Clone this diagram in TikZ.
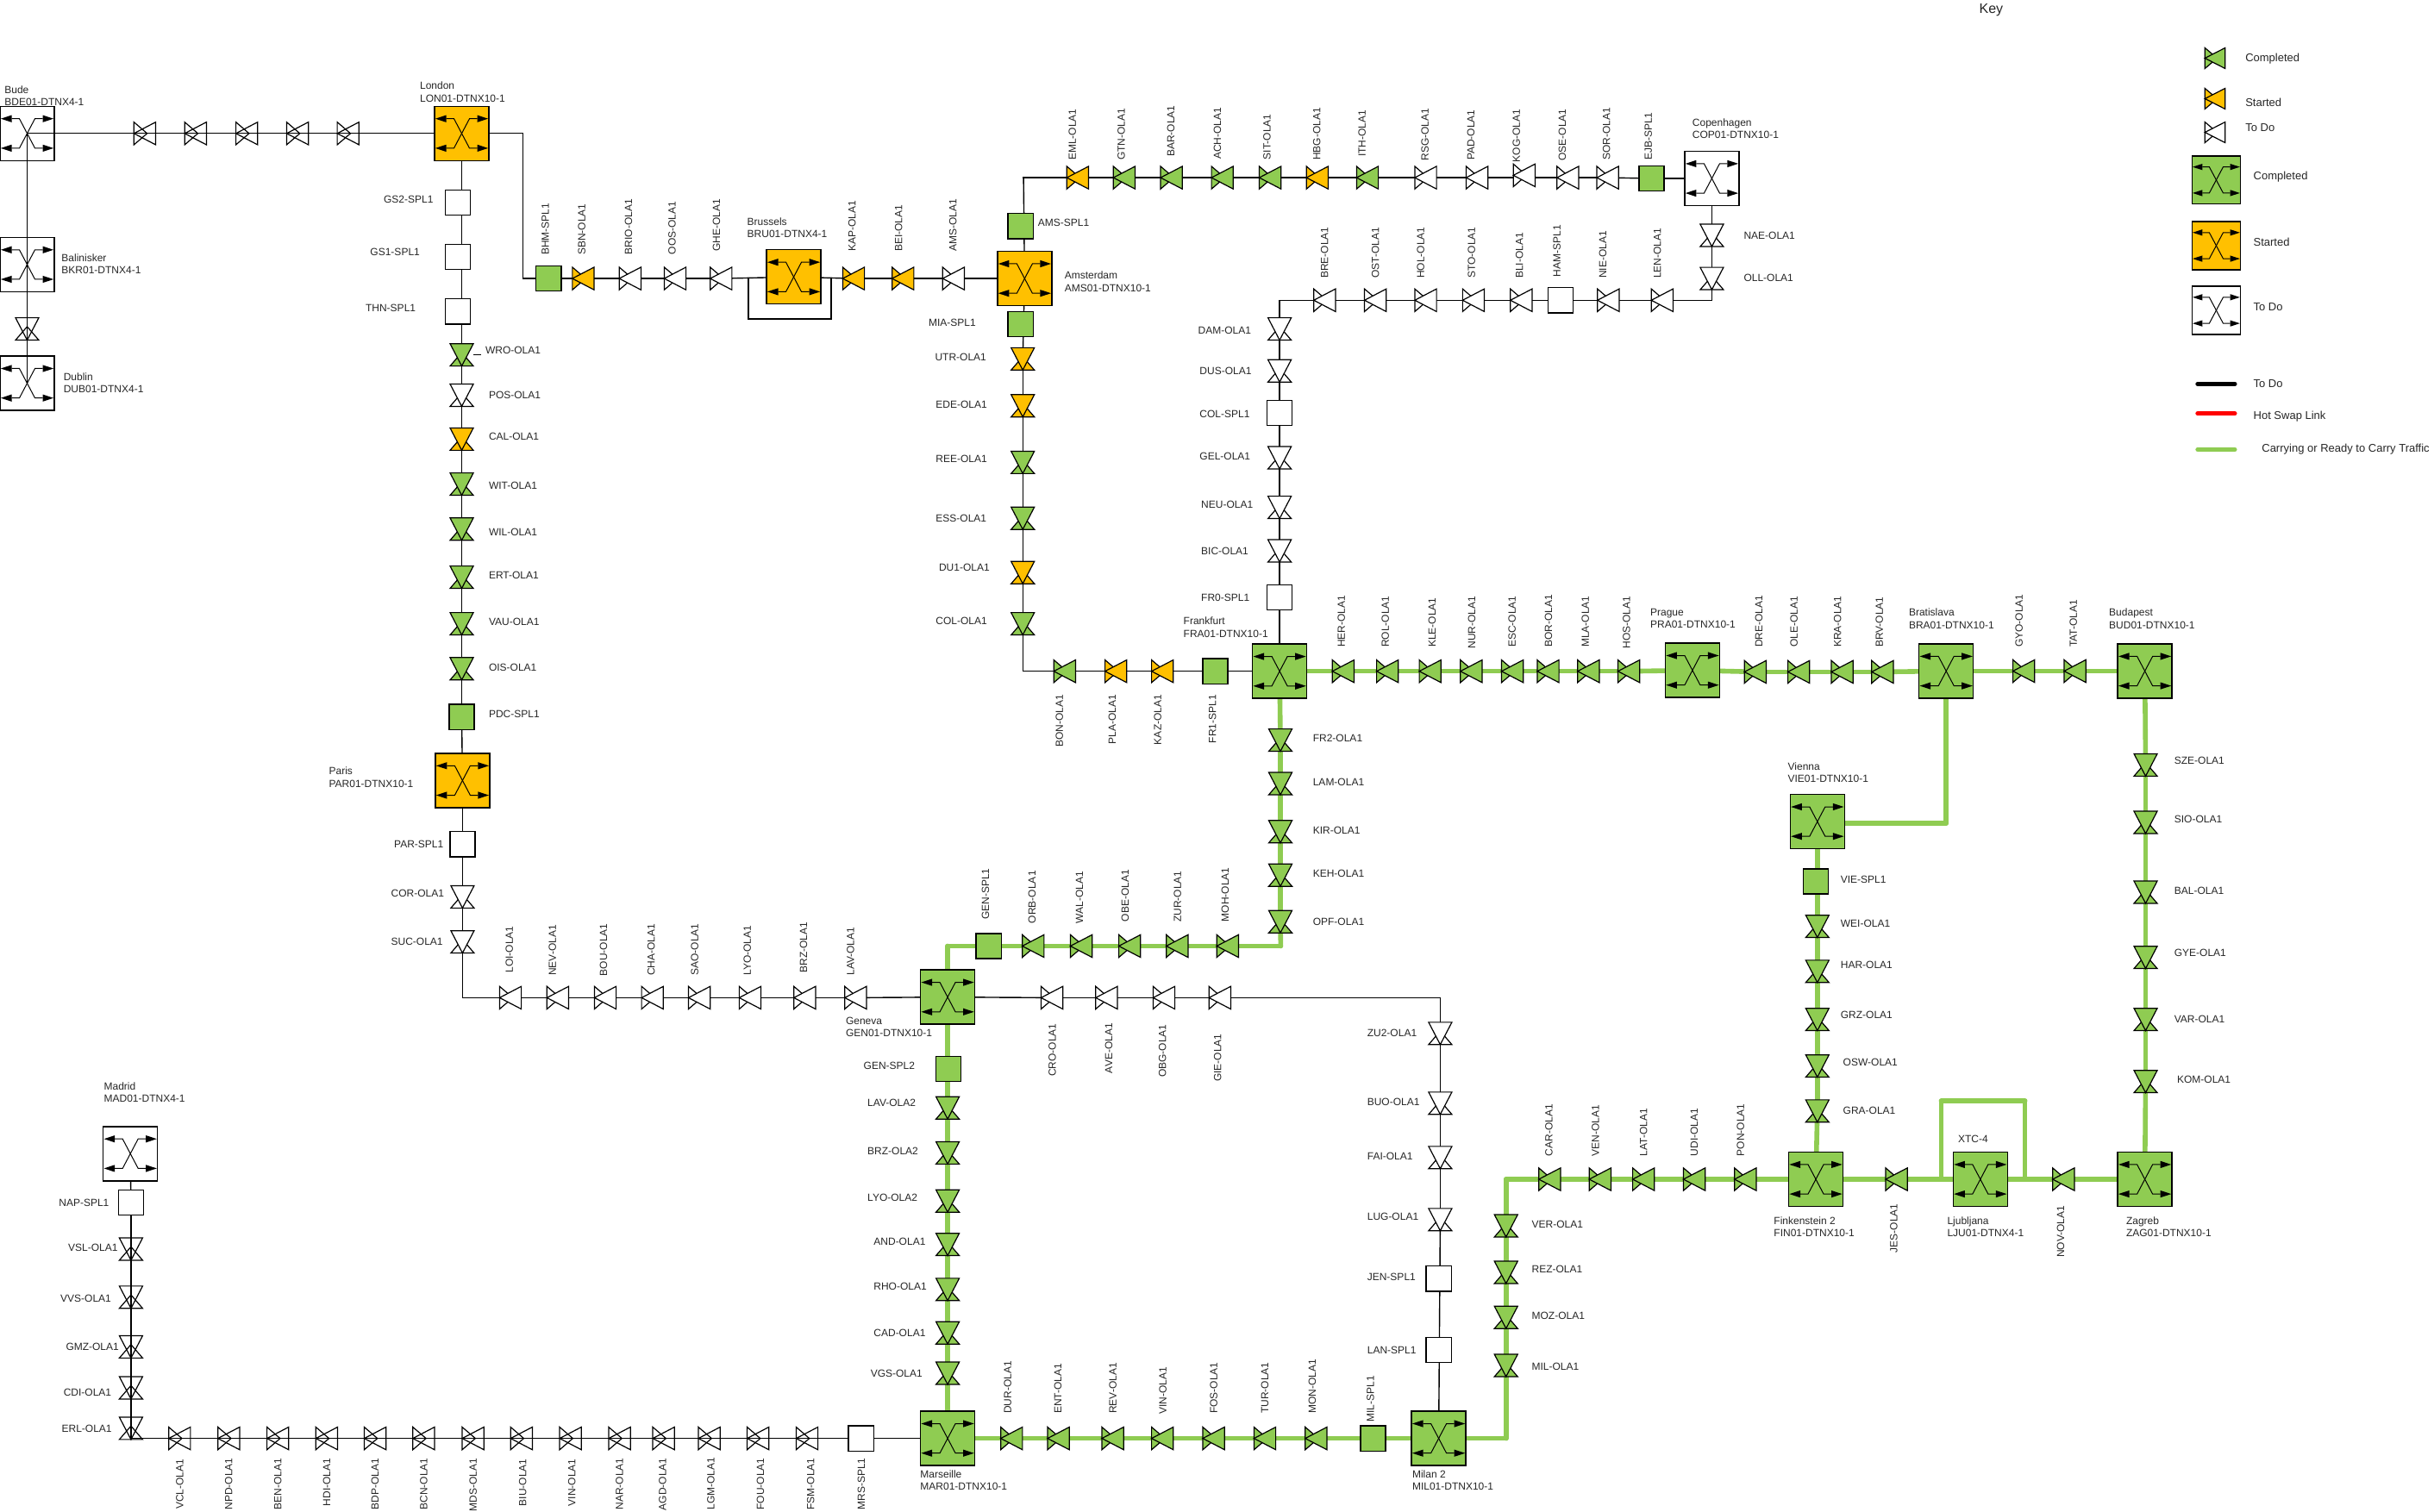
\documentclass[tikz,border=0pt]{standalone}
\usepackage{fontspec}
\setmainfont{Liberation Sans}
\definecolor{grn}{HTML}{8FCC52}
\definecolor{org}{HTML}{FFC000}
\pgfdeclarelayer{bg}
\pgfsetlayers{bg,main}
\tikzset{
 blk/.style={draw=black,line width=0.7pt,line cap=rect},
 grnl/.style={draw=grn,line width=2.8pt,line cap=round},
 sym/.style={draw=black,line width=0.6pt,line join=miter},
 olabox/.style={rectangle,draw=none,fill=none,inner sep=0pt,outer sep=0pt},
 boxn/.style={rectangle,draw=black,line width=0.7pt,inner sep=0pt,outer sep=0pt},
 lab/.style={font=\fontsize{6}{7.1}\selectfont,align=left,inner sep=0pt,outer sep=0pt,anchor=west,text=black!85},
 keylab/.style={font=\fontsize{6.5}{8}\selectfont,inner sep=0pt,outer sep=0pt,anchor=west,text=black!85},
 keyline/.style={line width=2.5pt,line cap=round}
}
\newcount\labn
\newcommand{\lab}[3]{\global\advance\labn by 1\relax\node[lab] (lab\the\labn) at (#1,#2) {#3};}
\newcommand{\rlab}[3]{\global\advance\labn by 1\relax\node[lab,rotate=90] (lab\the\labn) at (#1,#2) {#3};}
\newcommand{\klab}[3]{\global\advance\labn by 1\relax\node[keylab] (lab\the\labn) at (#1,#2) {#3};}
% horizontal OLA: color name x y
\newcommand{\olag}[6]{\node[olabox,minimum width=#5*0.9pt,minimum height=#6*0.9pt] (#2) at (#3,#4) {};
 \begin{scope}[shift={(#2.center)},xscale=#5/14,yscale=#6/15]
 \draw[sym,fill=#1] (-7,-7.5)--(1.5,0)--(-7,7.5)--cycle;
 \draw[sym,fill=#1] (7,-7.5)--(-7,0)--(7,7.5)--cycle;
 \end{scope}}
\newcommand{\olah}[4]{\olag{#1}{#2}{#3}{#4}{14}{14.6}}
\newcommand{\olav}[4]{\node[olabox,minimum width=13.5pt,minimum height=13pt] (#2) at (#3,#4) {};
 \begin{scope}[shift={(#2.center)}]
 \draw[sym,fill=#1] (-7.5,7.2)--(0,-1.5)--(7.5,7.2)--cycle;
 \draw[sym,fill=#1] (-7.5,-7.2)--(0,7.2)--(7.5,-7.2)--cycle;
 \end{scope}}
\newcommand{\spl}[4]{\node[boxn,fill=#1,minimum width=14.6pt,minimum height=14.6pt] (#2) at (#3,#4) {};}
\newcommand{\dtnxg}[6]{\node[boxn,fill=#1,minimum width=#5*0.9pt,minimum height=#6*0.9pt] (#2) at (#3,#4) {};
 \begin{scope}[shift={(#2.center)},xscale=#5/35,yscale=#6/35]
 \draw[line width=0.5pt] (-10,-9.5)--(-5,-9.5)--(5,9.5)--(10,9.5);
 \draw[line width=0.5pt] (-10,9.5)--(-5,9.5)--(5,-9.5)--(10,-9.5);
 \fill (-17,-9.5)--(-10,-11.8)--(-10,-7.2)--cycle;
 \fill (-17,9.5)--(-10,11.8)--(-10,7.2)--cycle;
 \fill (17,-9.5)--(10,-11.8)--(10,-7.2)--cycle;
 \fill (17,9.5)--(10,11.8)--(10,7.2)--cycle;
 \end{scope}}
\newcommand{\dtnx}[4]{\dtnxg{#1}{#2}{#3}{#4}{35}{35}}
\newcommand{\chain}[3][blk]{\begin{pgfonlayer}{bg}\foreach \cha [remember=\cha as \chb (initially #2)] in {#3}{\draw[#1] (\chb.center)--(\cha.center);}\end{pgfonlayer}}
\begin{document}
\begin{tikzpicture}[x=0.9pt,y=-0.9pt]
\useasboundingbox (0,0) rectangle (1568.33,974.44);
% ---------- Bude / London
\dtnx{white}{bde}{17.5}{86}
\dtnx{white}{bkr}{17.5}{170.5}
\dtnx{white}{dub}{17.5}{247}
\olav{none}{lnk}{17.5}{212}
\dtnx{org}{lon}{297.5}{86}
\olah{none}{bda}{93.3}{86}
\olah{none}{bdb}{126}{86}
\olah{none}{bdc}{159}{86}
\olah{none}{bdd}{191.7}{86}
\olah{none}{bde2}{224.3}{86}
\draw[blk] (bde.center)--(bda.center);
\draw[blk] (bde.center)--(bkr.center)--(lnk.center)--(dub.center);
\chain{bda}{bdb,bdc,bdd,bde2,lon}
\lab{3}{61.7}{Bude\\BDE01-DTNX4-1}
\lab{270.6}{59.3}{London\\LON01-DTNX10-1}
\lab{39.7}{170}{Balinisker\\BKR01-DTNX4-1}
\lab{41}{246.7}{Dublin\\DUB01-DTNX4-1}
% ---------- London to Amsterdam
\coordinate (ca) at (336.8,86);
\coordinate (cb) at (336.8,179.5);
\spl{grn}{bhm}{353.5}{179.5}
\olah{org}{sbn}{375.8}{179.5}
\olah{white}{bri}{406}{179.5}
\olah{white}{oos}{435}{179.5}
\olah{white}{ghe}{464.6}{179.5}
\dtnx{org}{bru}{511.4}{178.5}
\olah{org}{kap}{550}{179.5}
\olah{org}{bei}{581.8}{179.5}
\olah{white}{amo}{614.4}{179.5}
\dtnx{org}{ams}{660.2}{179.5}
\chain{lon}{ca,cb,bhm,sbn,bri,oos,ghe,bru,kap,bei,amo,ams}
\coordinate (lpa) at (482.3,179.5);
\coordinate (lpb) at (482.3,205.6);
\coordinate (lpc) at (535.6,205.6);
\coordinate (lpd) at (535.6,179.5);
\chain{lpa}{lpb,lpc,lpd}
\rlab{351.4}{164.4}{BHM-SPL1}
\rlab{374.8}{164.4}{SBN-OLA1}
\rlab{405}{164}{BRIO-OLA1}
\rlab{433}{164}{OOS-OLA1}
\rlab{461.7}{162}{GHE-OLA1}
\rlab{549}{162}{KAP-OLA1}
\rlab{579}{162.2}{BEI-OLA1}
\rlab{614}{162.2}{AMS-OLA1}
\lab{481.5}{147}{Brussels\\BRU01-DTNX4-1}
\lab{686}{181.5}{Amsterdam\\AMS01-DTNX10-1}
% ---------- GS column
\spl{white}{gsb}{295}{130.6}
\spl{white}{gsa}{295}{165.5}
\spl{white}{thn}{295}{200.7}
\olav{grn}{wro}{297.5}{228.7}
\olav{white}{pos}{297.5}{254.7}
\olav{org}{cal}{297.5}{283}
\olav{grn}{wit}{297.5}{312}
\olav{grn}{wil}{297.5}{341}
\olav{grn}{ert}{297.5}{372}
\olav{grn}{vau}{297.5}{402}
\olav{grn}{ois}{297.5}{431}
\spl{grn}{pdc}{297.5}{462}
\dtnx{org}{par}{298}{503}
\spl{white}{parsp}{298}{544}
\olav{white}{cor}{298}{578}
\olav{white}{suc}{298}{607}
\coordinate (cc) at (298,643);
\chain{lon}{wro,pos,cal,wit,wil,ert,vau,ois,pdc,par,parsp,cor,suc,cc}
\coordinate (wrot) at (310,228.7);
\draw[line width=0.6pt] (wro.east)--(wrot);
\lab{247.3}{128.7}{GS2-SPL1}
\lab{238.6}{162.6}{GS1-SPL1}
\lab{235.6}{198.7}{THN-SPL1}
\lab{312.8}{226}{WRO-OLA1}
\lab{315}{254.5}{POS-OLA1}
\lab{315}{281.5}{CAL-OLA1}
\lab{315}{313}{WIT-OLA1}
\lab{315}{343}{WIL-OLA1}
\lab{315}{371}{ERT-OLA1}
\lab{315}{401}{VAU-OLA1}
\lab{315}{430}{OIS-OLA1}
\lab{315}{460}{PDC-SPL1}
\lab{212}{501}{Paris\\PAR01-DTNX10-1}
\lab{254}{544}{PAR-SPL1}
\lab{252}{576}{COR-OLA1}
\lab{252}{607}{SUC-OLA1}
% ---------- Row left of Geneva
\dtnx{grn}{gen}{610.6}{642.6}
\olah{white}{loi}{328.9}{643}
\olah{white}{nev}{359.4}{643}
\olah{white}{bou}{390}{643}
\olah{white}{cha}{420.4}{643}
\olah{white}{sao}{450.6}{643}
\olah{white}{lyo}{483.3}{643}
\olah{white}{brz}{518.5}{643}
\olah{white}{lav}{551.3}{643}
\chain{cc}{loi,nev,bou,cha,sao,lyo,brz,lav,gen}
\rlab{328.2}{626.9}{LOI-OLA1}
\rlab{356}{628.7}{NEV-OLA1}
\rlab{388.9}{629}{BOU-OLA1}
\rlab{419.6}{628.7}{CHA-OLA1}
\rlab{447.6}{628.7}{SAO-OLA1}
\rlab{481.5}{628.7}{LYO-OLA1}
\rlab{517.8}{627}{BRZ-OLA1}
\rlab{548}{628.7}{LAV-OLA1}
\lab{545}{662}{Geneva\\GEN01-DTNX10-1}
% ---------- Amsterdam top row
\spl{grn}{amsp}{657.6}{145.7}
\coordinate (cd) at (659.5,114.5);
\olah{org}{eml}{694.4}{114.5}
\olah{grn}{gtn}{724.4}{114.5}
\olah{grn}{bar}{754.8}{114.5}
\olah{grn}{ach}{787.6}{114.5}
\olah{grn}{sit}{818.4}{114.5}
\olah{org}{hbg}{848.8}{114.5}
\olah{grn}{ith}{881.1}{114.5}
\olah{white}{rsg}{918.6}{114.5}
\olah{white}{pad}{951.7}{114.5}
\olah{white}{kog}{982.1}{113}
\olah{white}{ose}{1010.2}{114.5}
\olah{white}{sor}{1035.9}{114.5}
\spl{grn}{ejb}{1064.2}{115}
\dtnx{white}{cop}{1103}{115}
\chain{ams}{cd}
\chain{cd}{eml,gtn,bar,ach,sit,hbg,ith,rsg,pad}
\chain{pad}{ose,sor,ejb,cop}
\rlab{690.9}{103.3}{EML-OLA1}
\rlab{722.5}{103.3}{GTN-OLA1}
\rlab{754.4}{101}{BAR-OLA1}
\rlab{784.4}{102.6}{ACH-OLA1}
\rlab{816.4}{102.9}{SIT-OLA1}
\rlab{848.4}{103.3}{HBG-OLA1}
\rlab{877.6}{101}{ITH-OLA1}
\rlab{918.2}{103.7}{RSG-OLA1}
\rlab{947.8}{103.3}{PAD-OLA1}
\rlab{977}{104.6}{KOG-OLA1}
\rlab{1006.7}{103.7}{OSE-OLA1}
\rlab{1035.1}{103.3}{SOR-OLA1}
\rlab{1062}{103.3}{EJB-SPL1}
\lab{1090.5}{82.7}{Copenhagen\\COP01-DTNX10-1}
\lab{668.8}{143.5}{AMS-SPL1}
% ---------- Copenhagen return
\olav{white}{nae}{1103}{151.7}
\olav{white}{oll}{1103}{179.5}
\coordinate (ce) at (1103,193.5);
\olah{white}{len}{1071}{193.5}
\olah{white}{nie}{1036.3}{193.5}
\spl{white}{ham}{1005.5}{193.5}
\olah{white}{bli}{980.2}{193.5}
\olah{white}{sto}{949.4}{193.5}
\olah{white}{hol}{918.6}{193.5}
\olah{white}{ost}{886.2}{193.5}
\olah{white}{bre}{853.5}{193.5}
\coordinate (cf) at (824.5,193.5);
\olav{white}{dam}{824.5}{212}
\olav{white}{dus}{824.5}{239}
\spl{white}{colsp}{824.5}{266}
\olav{white}{gel}{824.5}{295}
\olav{white}{neu}{824.5}{327}
\olav{white}{bic}{824.5}{355}
\spl{white}{fro}{824.5}{385}
\dtnx{grn}{fra}{824.5}{432.6}
\chain{cop}{nae,oll,ce,len,nie,ham,bli,sto,hol,ost,bre,cf,dam,dus,colsp,gel,neu,bic,fro,fra}
\lab{1123.6}{152}{NAE-OLA1}
\lab{1123.6}{179}{OLL-OLA1}
\rlab{853.5}{179.3}{BRE-OLA1}
\rlab{886.2}{179.3}{OST-OLA1}
\rlab{915.4}{179.3}{HOL-OLA1}
\rlab{948.2}{179.3}{STO-OLA1}
\rlab{979}{179.3}{BLI-OLA1}
\rlab{1003.2}{178.5}{HAM-SPL1}
\rlab{1032.8}{179.3}{NIE-OLA1}
\rlab{1067.9}{179.3}{LEN-OLA1}
\lab{772}{212.8}{DAM-OLA1}
\lab{773}{239}{DUS-OLA1}
\lab{773}{267}{COL-SPL1}
\lab{773}{294}{GEL-OLA1}
\lab{774}{325}{NEU-OLA1}
\lab{774}{355}{BIC-OLA1}
\lab{774}{385}{FR0-SPL1}
\lab{762.6}{404.3}{Frankfurt\\FRA01-DTNX10-1}
% ---------- Amsterdam down
\spl{grn}{mia}{657.6}{209}
\olav{org}{utr}{659}{231.3}
\olav{org}{ede}{659}{261.5}
\olav{grn}{ree}{659}{298}
\olav{grn}{ess}{659}{334}
\olav{org}{duo}{659}{369}
\olav{grn}{colo}{659}{402}
\coordinate (cg) at (659,432.6);
\olah{grn}{bon}{686}{432.6}
\olah{org}{pla}{719}{432.6}
\olah{org}{kaz}{749}{432.6}
\spl{grn}{fro1}{783}{432.6}
\chain{ams}{utr,ede,ree,ess,duo,colo,cg,bon,pla,kaz,fro1,fra}
\lab{598.4}{207.8}{MIA-SPL1}
\lab{602.5}{230}{UTR-OLA1}
\lab{603}{261}{EDE-OLA1}
\lab{603}{296}{REE-OLA1}
\lab{603}{334}{ESS-OLA1}
\lab{605}{366}{DU1-OLA1}
\lab{603}{400}{COL-OLA1}
\rlab{682.6}{481.5}{BON-OLA1}
\rlab{716.7}{479.6}{PLA-OLA1}
\rlab{746}{480}{KAZ-OLA1}
\rlab{781.3}{479}{FR1-SPL1}
% ---------- Frankfurt east
\olah{grn}{her}{865.5}{432.6}
\olah{grn}{rol}{894}{432.6}
\olah{grn}{kle}{921.5}{432.6}
\olah{grn}{nur}{948}{432.6}
\olah{grn}{esc}{974.5}{432.6}
\olah{grn}{bor}{997.5}{432.6}
\olah{grn}{mla}{1023.5}{432.6}
\olah{grn}{hos}{1049.5}{432.6}
\dtnx{grn}{pra}{1090.5}{432}
\olah{grn}{dre}{1131}{433}
\olah{grn}{ole}{1159}{433}
\olah{grn}{kra}{1187}{433}
\olah{grn}{brv}{1213}{433}
\dtnx{grn}{bra}{1254}{432.5}
\olah{grn}{gyo}{1304}{432.5}
\olah{grn}{tat}{1337}{432.5}
\dtnx{grn}{bud}{1382}{432.5}
\chain[grnl]{fra}{her,rol,kle,nur,esc,bor,mla,hos,pra,dre,ole,kra,brv,bra,gyo,tat,bud}
\rlab{864.3}{417.2}{HER-OLA1}
\rlab{892.6}{417.2}{ROL-OLA1}
\rlab{922.8}{417.2}{KLE-OLA1}
\rlab{948.3}{418}{NUR-OLA1}
\rlab{974.3}{417.2}{ESC-OLA1}
\rlab{997.8}{417.2}{BOR-OLA1}
\rlab{1021.5}{417.2}{MLA-OLA1}
\rlab{1048}{418}{HOS-OLA1}
\rlab{1133.3}{417.2}{DRE-OLA1}
\rlab{1156}{417.2}{OLE-OLA1}
\rlab{1184}{417.2}{KRA-OLA1}
\rlab{1211}{417.2}{BRV-OLA1}
\rlab{1301}{417.2}{GYO-OLA1}
\rlab{1336}{417.2}{TAT-OLA1}
\lab{1063.4}{398.7}{Prague\\PRA01-DTNX10-1}
\lab{1230}{398.7}{Bratislava\\BRA01-DTNX10-1}
\lab{1359}{398.7}{Budapest\\BUD01-DTNX10-1}
% ---------- Budapest south
\olav{grn}{sze}{1382.5}{493}
\olav{grn}{sio}{1382.5}{530}
\olav{grn}{bal}{1382.5}{575}
\olav{grn}{gye}{1382.5}{617}
\olav{grn}{var}{1382.5}{657}
\olav{grn}{kom}{1382.5}{697}
\dtnx{grn}{zag}{1382}{760}
\chain[grnl]{bud}{sze,sio,bal,gye,var,kom,zag}
\lab{1401}{490}{SZE-OLA1}
\lab{1401}{528}{SIO-OLA1}
\lab{1401}{574}{BAL-OLA1}
\lab{1401}{614}{GYE-OLA1}
\lab{1401}{657}{VAR-OLA1}
\lab{1402.8}{696}{KOM-OLA1}
\lab{1370}{790.7}{Zagreb\\ZAG01-DTNX10-1}
% ---------- Vienna
\dtnx{grn}{vie}{1171}{529.5}
\coordinate (ch) at (1254,530.5);
\spl{grn}{viesp}{1170}{568}
\olav{grn}{wei}{1171}{597}
\olav{grn}{har}{1171}{626}
\olav{grn}{grz}{1171}{657}
\olav{grn}{osw}{1171}{687}
\olav{grn}{gra}{1171}{716}
\dtnx{grn}{fin}{1170}{760}
\chain[grnl]{bra}{ch}
\begin{pgfonlayer}{bg}\draw[grnl] (ch)--(vie.center|-ch);\end{pgfonlayer}
\chain[grnl]{vie}{wei,har,grz,osw,gra,fin}
\lab{1152}{498}{Vienna\\VIE01-DTNX10-1}
\lab{1186}{567}{VIE-SPL1}
\lab{1186}{595}{WEI-OLA1}
\lab{1186}{622}{HAR-OLA1}
\lab{1186}{654}{GRZ-OLA1}
\lab{1187.6}{684.4}{OSW-OLA1}
\lab{1187.6}{716}{GRA-OLA1}
% ---------- Finkenstein row
\olah{grn}{jes}{1222}{760}
\dtnx{grn}{xtc}{1276}{760}
\olah{grn}{nov}{1329.6}{760}
\chain[grnl]{fin}{jes,xtc,nov,zag}
\coordinate (la) at (1250.8,760);
\coordinate (lb) at (1250.8,709.6);
\coordinate (lc) at (1304.8,709.6);
\coordinate (ld) at (1304.8,760);
\chain[grnl]{la}{lb,lc,ld}
\lab{1143}{790.7}{Finkenstein 2\\FIN01-DTNX10-1}
\lab{1254.7}{790.7}{Ljubljana\\LJU01-DTNX4-1}
\lab{1261.7}{734}{XTC-4}
\rlab{1220.3}{807.4}{JES-OLA1}
\rlab{1327.8}{810.4}{NOV-OLA1}
\olah{grn}{car}{998.5}{760}
\olah{grn}{ven}{1031}{760}
\olah{grn}{lat}{1059}{760}
\olah{grn}{udi}{1091.7}{760}
\olah{grn}{pon}{1124.6}{760}
\coordinate (ci) at (970.4,760);
\olav{grn}{ver}{970.4}{790}
\olav{grn}{rez}{970.4}{820}
\olav{grn}{moz}{970.4}{849}
\olav{grn}{milo}{970.4}{880}
\coordinate (cj) at (970.4,927);
\dtnx{grn}{mil}{927}{927}
\chain[grnl]{fin}{pon,udi,lat,ven,car,ci,ver,rez,moz,milo,cj,mil}
\rlab{998}{745}{CAR-OLA1}
\rlab{1028}{745}{VEN-OLA1}
\rlab{1059}{745}{LAT-OLA1}
\rlab{1091.7}{745}{UDI-OLA1}
\rlab{1121.5}{745}{PON-OLA1}
\lab{987}{789}{VER-OLA1}
\lab{987}{818}{REZ-OLA1}
\lab{987}{848}{MOZ-OLA1}
\lab{987}{881}{MIL-OLA1}
\lab{910}{954}{Milan 2\\MIL01-DTNX10-1}
% ---------- Frankfurt south to Geneva
\olav{grn}{frt}{825}{477}
\olav{grn}{lam}{825}{505}
\olav{grn}{kir}{825}{536}
\olav{grn}{keh}{825}{564}
\olav{grn}{opf}{825}{594}
\coordinate (ck) at (825.2,609.7);
\olah{grn}{moh}{791}{609.7}
\olah{grn}{zur}{758.5}{609.7}
\olah{grn}{obe}{727.9}{609.7}
\olah{grn}{wal}{696.7}{609.7}
\olah{grn}{orb}{665.7}{609.7}
\spl{grn}{gsa1}{637}{609.7}
\coordinate (cl) at (610.6,609.7);
\chain[grnl]{fra}{frt,lam,kir,keh,opf,ck,moh,zur,obe,wal,orb,gsa1,cl,gen}
\lab{846}{476}{FR2-OLA1}
\lab{846}{504}{LAM-OLA1}
\lab{846}{535}{KIR-OLA1}
\lab{846}{563}{KEH-OLA1}
\lab{846}{594}{OPF-OLA1}
\rlab{635}{592.6}{GEN-SPL1}
\rlab{665}{595}{ORB-OLA1}
\rlab{695.6}{595}{WAL-OLA1}
\rlab{725}{594}{OBE-OLA1}
\rlab{758.7}{594.4}{ZUR-OLA1}
\rlab{789.4}{594}{MOH-OLA1}
% ---------- Geneva east to Milan
\olah{white}{cro}{677.8}{643}
\olah{white}{ave}{713}{643}
\olah{white}{obg}{750}{643}
\olah{white}{gie}{786}{643}
\coordinate (cm) at (928,643);
\olav{white}{zuo}{928}{666}
\olav{white}{buo}{928}{711}
\olav{white}{fai}{928}{746}
\olav{white}{lug}{928}{786}
\spl{white}{jen}{927}{824}
\spl{white}{lan}{927}{870}
\chain{gen}{cro,ave,obg,gie,cm,zuo,buo,fai,lug}
\chain{lug}{mil}
\rlab{678}{693.7}{CRO-OLA1}
\rlab{714.4}{691.7}{AVE-OLA1}
\rlab{749}{694.4}{OBG-OLA1}
\rlab{784.5}{697.2}{GIE-OLA1}
\lab{881}{666}{ZU2-OLA1}
\lab{881}{710}{BUO-OLA1}
\lab{881}{745}{FAI-OLA1}
\lab{881}{784}{LUG-OLA1}
\lab{881}{823}{JEN-SPL1}
\lab{881}{870}{LAN-SPL1}
% ---------- Geneva south to Marseille
\spl{grn}{gsb2}{611}{688.8}
\olav{grn}{lava}{610.6}{714}
\olav{grn}{brza}{610.6}{743}
\olav{grn}{lyoa}{610.6}{774}
\olav{grn}{and}{610.6}{802}
\olav{grn}{rho}{610.6}{831}
\olav{grn}{cad}{610.6}{859}
\olav{grn}{vgs}{610.6}{885}
\dtnx{grn}{mar}{610.6}{927}
\chain[grnl]{gen}{lava,brza,lyoa,and,rho,cad,vgs,mar}
\lab{556.5}{687}{GEN-SPL2}
\lab{559}{711}{LAV-OLA2}
\lab{559}{742}{BRZ-OLA2}
\lab{559}{772}{LYO-OLA2}
\lab{563}{800}{AND-OLA1}
\lab{563}{829}{RHO-OLA1}
\lab{563}{859}{CAD-OLA1}
\lab{561}{885}{VGS-OLA1}
\lab{593}{954}{Marseille\\MAR01-DTNX10-1}
\olah{grn}{dur}{651.8}{927}
\olah{grn}{ent}{682}{927}
\olah{grn}{rev}{717}{927}
\olah{grn}{vin}{749}{927}
\olah{grn}{fos}{782}{927}
\olah{grn}{tur}{815}{927}
\olah{grn}{mon}{848}{927}
\spl{grn}{mlsp}{884.7}{927}
\chain[grnl]{mar}{dur,ent,rev,vin,fos,tur,mon,mlsp,mil}
\rlab{649.3}{911}{DUR-OLA1}
\rlab{681.7}{911}{ENT-OLA1}
\rlab{717}{911}{REV-OLA1}
\rlab{749.3}{911.5}{VIN-OLA1}
\rlab{782}{911}{FOS-OLA1}
\rlab{815}{911}{TUR-OLA1}
\rlab{845.5}{911}{MON-OLA1}
\rlab{883}{916.3}{MIL-SPL1}
% ---------- Madrid
\dtnx{white}{mad}{84}{743.5}
\spl{white}{nap}{84.4}{775}
\olav{none}{vsl}{84.4}{805}
\olav{none}{vvs}{84.4}{836}
\olav{none}{gmz}{84.4}{868}
\olav{none}{cdi}{84.4}{894.4}
\olav{none}{erl}{84.4}{920.5}
\coordinate (cn) at (84.4,927);
\olah{none}{vcl}{115.7}{927}
\olah{none}{npd}{147.4}{927}
\olah{none}{ben}{179}{927}
\olah{none}{hdi}{210.5}{927}
\olah{none}{bdp}{241.7}{927}
\olah{none}{bcn}{273}{927}
\olah{none}{mds}{304.8}{927}
\olah{none}{biu}{336}{927}
\olah{none}{vno}{367.6}{927}
\olah{none}{nar}{399.2}{927}
\olah{none}{agd}{427.6}{927}
\olah{none}{lgm}{457}{927}
\olah{none}{fou}{488.4}{927}
\olah{none}{fsm}{520}{927}
\spl{white}{mrs}{554.8}{927}
\chain{mad}{nap,vsl,vvs,gmz,cdi,erl,cn,vcl,npd,ben,hdi,bdp,bcn,mds,biu,vno,nar,agd,lgm,fou,fsm,mrs,mar}
\lab{67}{704}{Madrid\\MAD01-DTNX4-1}
\lab{38}{775}{NAP-SPL1}
\lab{44}{804}{VSL-OLA1}
\lab{39}{836.7}{VVS-OLA1}
\lab{42.5}{868}{GMZ-OLA1}
\lab{41}{897.6}{CDI-OLA1}
\lab{39.8}{920.7}{ERL-OLA1}
\rlab{115.8}{972.6}{VCL-OLA1}
\rlab{147.4}{973}{NPD-OLA1}
\rlab{179}{973}{BEN-OLA1}
\rlab{210.5}{970.6}{HDI-OLA1}
\rlab{241.7}{973}{BDP-OLA1}
\rlab{273}{973}{BCN-OLA1}
\rlab{304.8}{974}{MDS-OLA1}
\rlab{336.8}{970.6}{BIU-OLA1}
\rlab{368.4}{970.6}{VIN-OLA1}
\rlab{399.2}{973}{NAR-OLA1}
\rlab{427}{973.5}{AGD-OLA1}
\rlab{458}{973}{LGM-OLA1}
\rlab{490}{973}{FOU-OLA1}
\rlab{522.4}{973}{FSM-OLA1}
\rlab{555}{973}{MRS-SPL1}
% ---------- Key
\node[inner sep=0pt,font=\fontsize{8}{9}\selectfont,text=black!85] (keyt) at (1283,6.5) {Key};
\olag{grn}{kga}{1427.2}{37.5}{13}{13.3}
\olag{org}{kgb}{1427.2}{63.6}{13}{13.3}
\olag{white}{kgc}{1427.2}{85.3}{13}{13.3}
\klab{1446.8}{37.7}{Completed}
\klab{1446.8}{66}{Started}
\klab{1446.8}{82.5}{To Do}
\dtnxg{grn}{kba}{1428}{116}{31.3}{31}
\dtnxg{org}{kbb}{1428}{158.3}{31.3}{31}
\dtnxg{white}{kbc}{1428}{200}{31.3}{31}
\klab{1452}{114}{Completed}
\klab{1452}{156}{Started}
\klab{1452}{198}{To Do}
\coordinate (kla) at (1416,247.4);
\coordinate (klb) at (1440,247.4);
\coordinate (klc) at (1416,266.5);
\coordinate (kld) at (1440,266.5);
\coordinate (kle) at (1416,289.7);
\coordinate (klf) at (1440,289.7);
\draw[keyline,black] (kla)--(klb);
\draw[keyline,red] (klc)--(kld);
\draw[keyline,grn] (kle)--(klf);
\klab{1452}{247.3}{To Do}
\klab{1452}{268.4}{Hot Swap Link}
\klab{1457.4}{289.4}{Carrying or Ready to Carry Traffic}
\end{tikzpicture}
\end{document}
